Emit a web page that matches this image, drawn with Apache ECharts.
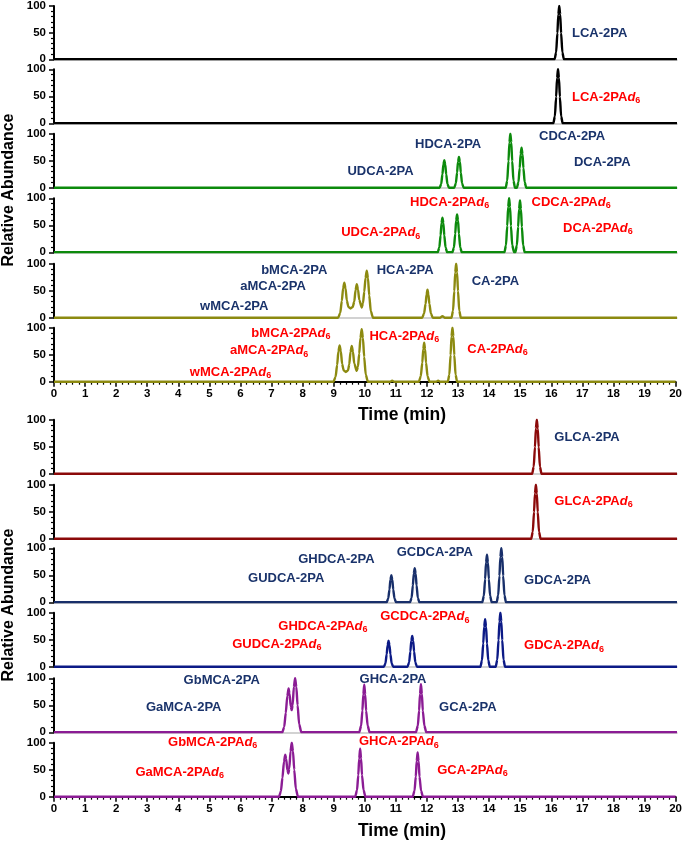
<!DOCTYPE html>
<html><head><meta charset="utf-8">
<script src="https://cdn.jsdelivr.net/npm/echarts@6/dist/echarts.min.js"></script>
<style>html,body{margin:0;padding:0;background:#fff}#c{width:685px;height:841px}</style>
</head><body><div id="c"></div>
<script>
// ---- chromatogram traces: [time (min), relative abundance] ----
const traceLCA = [[0,0],[16.07,0],[16.12,13],[16.16,49],[16.19,84],[16.22,100],[16.25,84],[16.28,49],[16.32,13],[16.37,0],[20,0]];
const traceLCAd6 = [[0,0],[16.03,0],[16.08,13],[16.12,49],[16.15,84],[16.18,100],[16.21,84],[16.24,49],[16.28,13],[16.33,0],[20,0]];
const traceDCA = [[0,0],
  [12.38,0],[12.43,7],[12.47,25],[12.5,43],[12.53,51],[12.56,43],[12.59,25],[12.63,7],[12.68,0],
  [12.85,0],[12.9,8],[12.94,28],[12.97,48],[13.0,57],[13.03,48],[13.06,28],[13.1,8],[13.15,0],
  [14.5,0],[14.55,13],[14.59,49],[14.62,84],[14.65,100],[14.68,84],[14.71,49],[14.75,13],[14.8,0],
  [14.86,0],[14.91,10],[14.95,36],[14.98,62],[15.01,74],[15.04,62],[15.07,36],[15.11,10],[15.16,0],[20,0]];
const traceDCAd6 = [[0,0],
  [12.32,0],[12.37,9],[12.41,31],[12.44,54],[12.47,64],[12.5,54],[12.53,31],[12.57,9],[12.62,0],
  [12.79,0],[12.84,9],[12.88,34],[12.91,59],[12.94,70],[12.97,59],[13.0,34],[13.04,9],[13.09,0],
  [14.46,0],[14.51,13],[14.55,49],[14.58,84],[14.61,100],[14.64,84],[14.67,49],[14.71,13],[14.77,0],
  [14.81,0],[14.86,13],[14.9,47],[14.93,80],[14.96,96],[14.99,80],[15.02,47],[15.06,13],[15.11,0],[20,0]];
const traceCA = [[0,0],
  [9.12,0],[9.19,9],[9.24,31],[9.28,54],[9.32,65],[9.36,54],[9.4,32],[9.45,20],[9.52,17],[9.59,20],[9.64,30],[9.68,51],[9.72,62],[9.76,52],[9.8,33],
  [9.88,19],[9.92,27],[9.96,48],[10.0,73],[10.04,87],[10.08,73],[10.12,41],[10.17,12],[10.24,0],
  [11.82,0],[11.88,8],[11.93,26],[11.96,43],[11.99,52],[12.02,43],[12.05,26],[12.1,8],[12.16,0],
  [12.4,0],[12.47,3],[12.54,0],
  [12.76,0],[12.81,13],[12.85,49],[12.88,84],[12.91,100],[12.94,84],[12.97,49],[13.01,13],[13.06,0],[20,0]];
const traceCAd6 = [[0,0],
  [8.99,0],[9.06,9],[9.11,31],[9.15,56],[9.19,67],[9.23,56],[9.27,33],[9.32,21],[9.39,18],[9.46,21],[9.5,32],[9.54,55],[9.58,66],[9.62,55],[9.66,34],
  [9.74,20],[9.78,28],[9.82,52],[9.86,81],[9.9,97],[9.94,81],[9.98,46],[10.03,13],[10.1,0],
  [10.82,0],[10.88,2],[10.94,0],
  [11.74,0],[11.8,10],[11.85,35],[11.88,60],[11.91,72],[11.94,60],[11.97,35],[12.02,10],[12.08,0],
  [12.3,0],[12.36,2],[12.42,0],
  [12.67,0],[12.72,13],[12.76,49],[12.79,84],[12.82,100],[12.85,84],[12.88,49],[12.92,13],[12.97,0],[20,0]];
const traceGLCA = [[0,0],[15.35,0],[15.4,13],[15.44,49],[15.47,84],[15.5,100],[15.53,84],[15.56,49],[15.6,13],[15.65,0],[20,0]];
const traceGLCAd6 = [[0,0],[15.32,0],[15.37,13],[15.41,49],[15.44,84],[15.47,100],[15.5,84],[15.53,49],[15.57,13],[15.62,0],[20,0]];
const traceGDCA = [[0,0],
  [10.68,0],[10.73,7],[10.77,24],[10.8,42],[10.83,50],[10.86,42],[10.89,24],[10.93,7],[10.98,0],
  [11.43,0],[11.48,8],[11.52,31],[11.55,53],[11.58,63],[11.61,53],[11.64,31],[11.68,8],[11.73,0],
  [13.75,0],[13.8,12],[13.84,43],[13.87,74],[13.9,88],[13.93,74],[13.96,43],[14.0,12],[14.05,0],
  [14.21,0],[14.26,13],[14.3,49],[14.33,84],[14.36,100],[14.39,84],[14.42,49],[14.46,13],[14.51,0],[20,0]];
const traceGDCAd6 = [[0,0],
  [10.59,0],[10.64,6],[10.68,23],[10.71,40],[10.74,48],[10.77,40],[10.8,23],[10.84,6],[10.89,0],
  [11.35,0],[11.4,8],[11.44,28],[11.47,48],[11.5,57],[11.53,48],[11.56,28],[11.6,8],[11.65,0],
  [13.69,0],[13.74,12],[13.78,43],[13.81,74],[13.84,88],[13.87,74],[13.9,43],[13.94,12],[13.99,0],
  [14.18,0],[14.23,13],[14.27,49],[14.3,84],[14.33,100],[14.36,84],[14.39,49],[14.43,13],[14.48,0],[20,0]];
const traceGCA = [[0,0],
  [7.33,0],[7.39,10],[7.44,36],[7.49,67],[7.53,81],[7.56,72],[7.6,48],[7.63,41],[7.66,50],[7.7,84],[7.74,100],[7.78,84],[7.82,50],[7.87,15],[7.94,0],
  [9.8,0],[9.86,12],[9.9,40],[9.93,70],[9.96,88],[9.99,70],[10.02,40],[10.07,12],[10.13,0],
  [11.62,0],[11.68,12],[11.72,40],[11.75,71],[11.78,89],[11.81,71],[11.84,40],[11.89,12],[11.95,0],[20,0]];
const traceGCAd6 = [[0,0],
  [7.24,0],[7.3,10],[7.35,35],[7.4,65],[7.44,78],[7.47,70],[7.51,49],[7.54,43],[7.57,52],[7.61,84],[7.65,100],[7.69,84],[7.73,50],[7.78,15],[7.85,0],
  [9.69,0],[9.75,12],[9.79,40],[9.82,71],[9.85,89],[9.88,71],[9.91,40],[9.96,12],[10.02,0],
  [11.54,0],[11.6,11],[11.64,37],[11.67,66],[11.7,82],[11.73,66],[11.76,37],[11.81,11],[11.87,0],[20,0]];

// ---- compound names per panel ----
const namesLCA = ['LCA-2PA'];
const namesLCAd6 = ['LCA-2PA'];
const namesDCA = ['HDCA-2PA','UDCA-2PA','CDCA-2PA','DCA-2PA'];
const namesDCAd6 = ['HDCA-2PA','UDCA-2PA','CDCA-2PA','DCA-2PA'];
const namesCA = ['bMCA-2PA','aMCA-2PA','wMCA-2PA','HCA-2PA','CA-2PA'];
const namesCAd6 = ['bMCA-2PA','aMCA-2PA','wMCA-2PA','HCA-2PA','CA-2PA'];
const namesGLCA = ['GLCA-2PA'];
const namesGLCAd6 = ['GLCA-2PA'];
const namesGDCA = ['GHDCA-2PA','GUDCA-2PA','GCDCA-2PA','GDCA-2PA'];
const namesGDCAd6 = ['GHDCA-2PA','GUDCA-2PA','GCDCA-2PA','GDCA-2PA'];
const namesGCA = ['GbMCA-2PA','GaMCA-2PA','GHCA-2PA','GCA-2PA'];
const namesGCAd6 = ['GbMCA-2PA','GaMCA-2PA','GHCA-2PA','GCA-2PA'];

// ---- label anchors in data units [time, abundance] ----
const atLCA = [[16.63,48.7]];
const atLCAd6 = [[16.63,48.7]];
const atDCA = [[11.59,79.6],[9.42,30],[15.57,95.7],[16.69,46.9]];
const atDCAd6 = [[11.43,93.1],[9.22,36],[15.33,93.1],[16.34,44.1]];
const atCA = [[6.65,87],[5.98,57.4],[4.69,20.4],[10.36,88.3],[13.41,68]];
const atCAd6 = [[6.35,89.3],[5.66,57.2],[4.37,18],[10.15,84.6],[13.3,60.3]];
const atGLCA = [[16.06,68]];
const atGLCAd6 = [[16.06,69.3]];
const atGDCA = [[7.84,80.2],[6.23,44.4],[11.0,92.6],[15.09,40.7]];
const atGDCAd6 = [[7.2,75.4],[5.72,41.5],[10.47,92.6],[15.09,38.7]];
const atGCA = [[4.16,95.6],[2.95,45.6],[9.81,97.4],[12.36,45.6]];
const atGCAd6 = [[3.67,100.7],[2.62,45.2],[9.81,101.9],[12.33,49.4]];

const panels = [
  {trace: traceLCA,    color:'#000000', names: namesLCA,    at: atLCA,    d6:false},
  {trace: traceLCAd6,  color:'#000000', names: namesLCAd6,  at: atLCAd6,  d6:true},
  {trace: traceDCA,    color:'#0c8a0c', names: namesDCA,    at: atDCA,    d6:false},
  {trace: traceDCAd6,  color:'#0c8a0c', names: namesDCAd6,  at: atDCAd6,  d6:true},
  {trace: traceCA,     color:'#8c8a10', names: namesCA,     at: atCA,     d6:false},
  {trace: traceCAd6,   color:'#8c8a10', names: namesCAd6,   at: atCAd6,   d6:true, bottom:true},
  {trace: traceGLCA,   color:'#8b0a0a', names: namesGLCA,   at: atGLCA,   d6:false},
  {trace: traceGLCAd6, color:'#8b0a0a', names: namesGLCAd6, at: atGLCAd6, d6:true},
  {trace: traceGDCA,   color:'#182f6a', names: namesGDCA,   at: atGDCA,   d6:false},
  {trace: traceGDCAd6, color:'#0c1a86', names: namesGDCAd6, at: atGDCAd6, d6:true},
  {trace: traceGCA,    color:'#8b1c94', names: namesGCA,    at: atGCA,    d6:false},
  {trace: traceGCAd6,  color:'#8b1c94', names: namesGCAd6,  at: atGCAd6,  d6:true, bottom:true}
];
const panelTops = [5.3, 69.3, 133.7, 198.3, 263.7, 327.7, 419.7, 484.7, 548.3, 612.7, 678.3, 742.7];
const PH = 54;

const FONT = 'Arial, "Liberation Sans", Helvetica, sans-serif';
const BLUE = '#1a336b', RED = '#ff0000';

const grid = [], xAxis = [], yAxis = [], series = [];
panels.forEach((p, i) => {
  grid.push({left: 54, right: 8, top: panelTops[i], height: PH, containLabel: false});
  xAxis.push({
    type: 'value', gridIndex: i, min: 0, max: 20, interval: 1,
    axisLine: {show: true, onZero: false, lineStyle: p.bottom ? {color:'#000', width: 2} : {color:'#c4c4c4', width: 1.5}},
    axisTick: {show: !!p.bottom, length: 5, lineStyle: {color:'#000', width: 1.5}},
    minorTick: {show: !!p.bottom, splitNumber: 5, length: 3, lineStyle: {color:'#000', width: 1.2}},
    axisLabel: {show: !!p.bottom, fontFamily: FONT, fontWeight: 'bold', fontSize: 11.5, color: '#000', margin: 6},
    splitLine: {show: false}, minorSplitLine: {show: false}
  });
  yAxis.push({
    type: 'value', gridIndex: i, min: 0, max: 100, interval: 50,
    axisLine: {show: true, lineStyle: {color:'#000', width: 2}},
    axisTick: {show: true, length: 5, lineStyle: {color:'#000', width: 1.5}},
    minorTick: {show: true, splitNumber: 5, length: 3, lineStyle: {color:'#000', width: 1.2}},
    axisLabel: {fontFamily: FONT, fontWeight: 'bold', fontSize: 11.5, color: '#000', margin: 8},
    splitLine: {show: false}, minorSplitLine: {show: false}
  });
  series.push({
    type: 'line', xAxisIndex: i, yAxisIndex: i, data: p.trace,
    showSymbol: false, smooth: 0.25, smoothMonotone: 'x',
    lineStyle: {color: p.color, width: 2.4}, silent: true, z: 3
  });
});

const chart = echarts.init(document.getElementById('c'), null, {renderer: 'canvas'});
chart.setOption({
  animation: false,
  backgroundColor: '#fff',
  grid, xAxis, yAxis, series
});

// ---- text: compound labels placed through each panel's own scales ----
const rich = {
  nb: {fontFamily: FONT, fontWeight: 'bold', fontSize: 13, fill: BLUE, color: BLUE},
  nr: {fontFamily: FONT, fontWeight: 'bold', fontSize: 13, fill: RED, color: RED},
  ir: {fontFamily: FONT, fontWeight: 'bold', fontStyle: 'italic', fontSize: 13, fill: RED, color: RED},
  sr: {fontFamily: FONT, fontWeight: 'bold', fontSize: 9, fill: RED, color: RED, padding: [7, 0, 0, 0]}
};
const graphic = [];
panels.forEach((p, i) => {
  p.names.forEach((n, k) => {
    const px = chart.convertToPixel({gridIndex: i}, p.at[k]);
    graphic.push({
      type: 'text', x: px[0], y: px[1], silent: true, z: 10,
      style: {
        text: p.d6 ? `{nr|${n}}{ir|d}{sr|6}` : `{nb|${n}}`,
        rich, align: 'left', verticalAlign: 'middle', textAlign: 'left', textVerticalAlign: 'middle'
      }
    });
  });
});
const titleStyle = (t, size) => ({text: t, fontFamily: FONT, fontWeight: 'bold', fontSize: size, fill: '#000', align: 'center', verticalAlign: 'middle', textAlign: 'center', textVerticalAlign: 'middle'});
graphic.push(
  {type: 'text', x: 9, y: 190, rotation: Math.PI / 2, style: titleStyle('Relative Abundance', 16)},
  {type: 'text', x: 9, y: 605, rotation: Math.PI / 2, style: titleStyle('Relative Abundance', 16)},
  {type: 'text', x: 402, y: 415, style: titleStyle('Time (min)', 17.5)},
  {type: 'text', x: 402, y: 831, style: titleStyle('Time (min)', 17.5)}
);
chart.setOption({graphic});
</script></body></html>
